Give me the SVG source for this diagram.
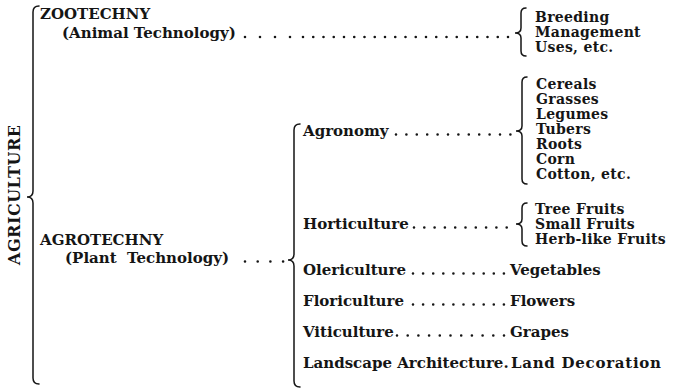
<svg xmlns="http://www.w3.org/2000/svg" width="674" height="390" viewBox="0 0 674 390">
<style>
text{font-family:"DejaVu Serif","Liberation Serif",serif;font-weight:bold;font-size:15px;fill:#151515}
.title{font-size:16px}
.list{font-size:14px;letter-spacing:0.3px}
.br{fill:none;stroke:#151515;stroke-width:1.5;stroke-linecap:round}
.dots{fill:none;stroke:#151515;stroke-width:2.6;stroke-linecap:round}
</style>
<rect width="674" height="390" fill="#fff"/>
<g id="connectors">
<path class="br" d="M39,6 Q33,6 33,12 L33,191 Q33,197 27,197 Q33,197 33,203 L33,378 Q33,384 39,384"/>
<path class="br" d="M526,8 Q521,8 521,13 L521,28 Q521,33 515,33 Q521,33 521,38 L521,51 Q521,56 526,56"/>
<path class="br" d="M527,77 Q522,77 522,82 L522,126 Q522,131 516,131 Q522,131 522,136 L522,179 Q522,184 527,184"/>
<path class="br" d="M527,203 Q522,203 522,208 L522,219 Q522,224 516,224 Q522,224 522,229 L522,241 Q522,246 527,246"/>
<path class="br" d="M300,124 Q294,124 294,130 L294,254 Q294,260 288,260 Q294,260 294,266 L294,381 Q294,387 300,387"/>
<path class="dots" stroke-dasharray="0 15" d="M245,37 H291"/>
<path class="dots" stroke-dasharray="0 10.25" d="M303,37 H509.5"/>
<path class="dots" stroke-dasharray="0 10.4" d="M396,134.5 H512.5"/>
<path class="dots" stroke-dasharray="0 10.3" d="M414,227.5 H512.5"/>
<path class="dots" stroke-dasharray="0 12.7" d="M245,261.5 H284.5"/>
<path class="dots" stroke-dasharray="0 10.1" d="M413,273.5 H504.5"/>
<path class="dots" stroke-dasharray="0 10.1" d="M413,304.5 H504.5"/>
<path class="dots" stroke-dasharray="0 10.7" d="M397,335.5 H504.5"/>
</g>
<g id="agriculture"><text class="title" transform="translate(20,195) rotate(-90)" text-anchor="middle" textLength="140" lengthAdjust="spacing">AGRICULTURE</text></g>
<g id="zootechny"><text x="40" y="19">ZOOTECHNY</text><text x="62" y="38">(Animal Technology)</text></g>
<g id="zoo-items"><text class="list" x="535" y="22">Breeding</text><text class="list" x="535" y="37">Management</text><text class="list" x="535" y="52">Uses, etc.</text></g>
<g id="agrotechny"><text x="40" y="245">AGROTECHNY</text><text x="65" y="263" xml:space="preserve">(Plant  Technology)</text></g>
<g id="agronomy"><text x="303" y="136">Agronomy</text></g>
<g id="agronomy-items"><text class="list" x="536" y="89">Cereals</text><text class="list" x="536" y="104">Grasses</text><text class="list" x="536" y="119">Legumes</text><text class="list" x="536" y="134">Tubers</text><text class="list" x="536" y="149">Roots</text><text class="list" x="536" y="164">Corn</text><text class="list" x="536" y="179">Cotton, etc.</text></g>
<g id="horticulture"><text x="303" y="229">Horticulture</text></g>
<g id="horticulture-items"><text class="list" x="535" y="214">Tree Fruits</text><text class="list" x="535" y="229">Small Fruits</text><text class="list" x="535" y="244">Herb-like Fruits</text></g>
<g id="olericulture"><text x="303" y="275">Olericulture</text><text x="510" y="275">Vegetables</text></g>
<g id="floriculture"><text x="303" y="306">Floriculture</text><text x="510" y="306">Flowers</text></g>
<g id="viticulture"><text x="303" y="337">Viticulture</text><text x="510" y="337">Grapes</text></g>
<g id="landscape"><text x="303" y="368">Landscape Architecture.</text><text x="511" y="368" textLength="150" lengthAdjust="spacing">Land Decoration</text></g>
</svg>
